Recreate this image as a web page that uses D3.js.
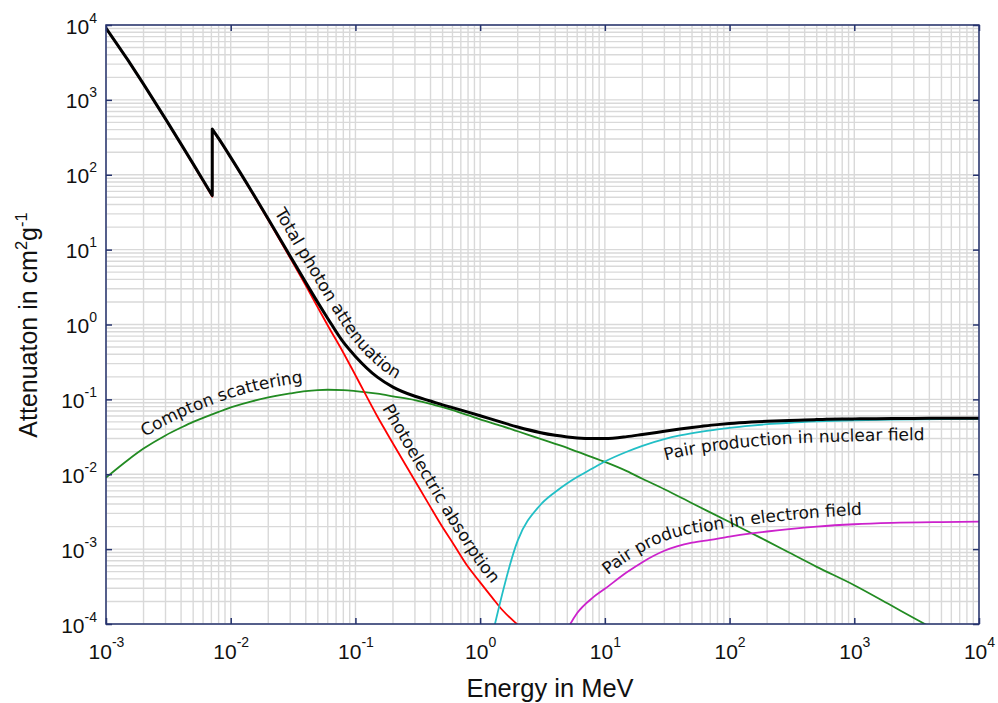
<!DOCTYPE html>
<html><head><meta charset="utf-8">
<script src="https://cdn.jsdelivr.net/npm/d3@7"></script>
<style>html,body{margin:0;padding:0;background:#fff;} svg{display:block;background:#fff}</style>
</head><body><svg id="chart" width="998" height="703"></svg>
<script>
// ---- data (iron, mass attenuation in cm^2/g vs energy in MeV) ----
const energyTotal = [1e-3,1.5e-3,2e-3,3e-3,4e-3,5e-3,6e-3,7.112e-3,7.112e-3,8e-3,1e-2,1.5e-2,2e-2,3e-2,4e-2,5e-2,6e-2,8e-2,0.1,0.15,0.2,0.3,0.4,0.5,0.6,0.8,1,1.25,1.5,2,3,4,5,6,8,10,15,20,30,40,50,60,80,100,150,200,300,400,500,600,800,1000,1500,2000,3000,4000,5000,6000,8000,10000];
const totalAttenuation = [9085,3399,1626,557.6,256.7,139.8,84.66,52.8,408,305.6,170.6,57.08,25.68,8.176,3.629,1.958,1.205,0.58,0.375,0.198,0.146,0.11,0.095,0.0845,0.0775,0.0675,0.0605,0.054,0.0492,0.0428,0.0362,0.0331,0.0315,0.0306,0.0300,0.0300,0.0318,0.0340,0.0375,0.0402,0.0422,0.0437,0.0460,0.0475,0.0497,0.0510,0.0524,0.0531,0.0537,0.0541,0.0546,0.0549,0.0553,0.0555,0.0557,0.0558,0.0559,0.0559,0.0560,0.0560];

const energyPhoto = [1e-3,1.5e-3,2e-3,3e-3,4e-3,5e-3,6e-3,7.112e-3,7.112e-3,8e-3,1e-2,1.5e-2,2e-2,3e-2,4e-2,5e-2,6e-2,8e-2,0.1,0.15,0.2,0.3,0.4,0.5,0.6,0.8,1,1.25,1.5,2,3];
const photoelectric = [9050,3380,1612,551,252.5,136.8,82.3,51,405,303,168.5,55.8,24.8,7.7,3.3,1.68,0.97,0.42,0.21,0.059,0.0258,0.0082,0.00364,0.00196,0.00123,5.8e-4,3.6e-4,2.25e-4,1.55e-4,9.8e-5,5.5e-5];

const energyCompton = [1e-3,1.5e-3,2e-3,3e-3,4e-3,5e-3,6e-3,8e-3,1e-2,1.5e-2,2e-2,3e-2,4e-2,5e-2,6e-2,8e-2,0.1,0.15,0.2,0.3,0.4,0.5,0.6,0.8,1,1.5,2,3,4,5,6,8,10,15,20,30,50,100,150,200,300,500,1000,2000,3000,5000];
const compton = [0.0090,0.0155,0.0220,0.0330,0.0420,0.0500,0.0565,0.0680,0.0780,0.0950,0.1060,0.1200,0.1290,0.1330,0.1345,0.1330,0.1290,0.1190,0.1100,0.0980,0.0870,0.0785,0.0720,0.0615,0.0540,0.0440,0.0375,0.0300,0.0255,0.0225,0.0200,0.0168,0.0146,0.0110,0.0087,0.0063,0.0041,0.0023,0.00163,0.00128,9.0e-4,5.8e-4,3.3e-4,1.75e-4,1.2e-4,7.6e-5];

const energyPairNuclear = [1.25,2,3,4,5,6,8,10,15,20,30,40,60,80,100,150,200,300,500,1000,2000,5000,10000];
const pairNuclear = [7e-5,1.3e-3,3.8e-3,5.8e-3,7.6e-3,9.2e-3,1.2e-2,1.48e-2,2.0e-2,2.4e-2,2.95e-2,3.3e-2,3.72e-2,3.98e-2,4.17e-2,4.47e-2,4.66e-2,4.87e-2,5.07e-2,5.26e-2,5.38e-2,5.46e-2,5.49e-2];

const energyPairElectron = [3,4,5,6,8,10,15,20,30,50,70,100,150,200,300,500,1000,2000,5000,10000];
const pairElectron = [1.2e-5,4e-5,8.5e-5,1.4e-4,2.25e-4,2.95e-4,4.9e-4,6.7e-4,9.5e-4,1.22e-3,1.33e-3,1.47e-3,1.62e-3,1.72e-3,1.85e-3,2.0e-3,2.15e-3,2.24e-3,2.3e-3,2.33e-3];

const xTickValues = [1e-3,1e-2,1e-1,1e0,1e1,1e2,1e3,1e4];
const xTickExps = ["-3","-2","-1","0","1","2","3","4"];
const yTickValues = [1e-4,1e-3,1e-2,1e-1,1e0,1e1,1e2,1e3,1e4];
const yTickExps = ["-4","-3","-2","-1","0","1","2","3","4"];

// labels follow their curve; off = baseline offset from the curve (px, + = glyph-up side)
const curveLabels = [
  {text:"Total photon attenuation", series:4, off:8.5, sx:276, sy:211, x0:240, x1:480},
  {text:"Compton scattering", series:0, off:9, sx:145, sy:438, x0:108, x1:380},
  {text:"Photoelectric absorption", series:1, off:8, sx:381, sy:409, x0:340, x1:530},
  {text:"Pair production in nuclear field", series:2, off:-21, sx:665, sy:460, x0:600, x1:978},
  {text:"Pair production in electron field", series:3, off:9, sx:605, sy:572, x0:575, x1:978}
];

// ---- drawing ----
const svg = d3.select("#chart");
const L = 106, R = 979, T = 25, B = 624;
const x = d3.scaleLog().domain([1e-3, 1e4]).range([L, R]);
const y = d3.scaleLog().domain([1e-4, 1e4]).range([B, T]);
const axisColor = "#26336e";
const gridColor = "#d9d9d9";

svg.append("rect").attr("width",998).attr("height",703).attr("fill","#fff");
const defs = svg.append("defs");

// grid (major + minor)
const gx = [], gy = [];
for (let e = -3; e < 4; e++) for (let k = 1; k < 10; k++) gx.push(+(k + "e" + e));
gx.push(1e4);
for (let e = -4; e < 4; e++) for (let k = 1; k < 10; k++) gy.push(+(k + "e" + e));
gy.push(1e4);
const grid = svg.append("g");
grid.selectAll("line.v").data(gx).enter().append("line")
  .attr("x1", d => x(d)).attr("x2", d => x(d)).attr("y1", T).attr("y2", B)
  .attr("stroke", gridColor).attr("stroke-width", 1.4);
grid.selectAll("line.h").data(gy).enter().append("line")
  .attr("y1", d => y(d)).attr("y2", d => y(d)).attr("x1", L).attr("x2", R)
  .attr("stroke", gridColor).attr("stroke-width", 1.4);

// clip
defs.append("clipPath").attr("id","plotclip").append("rect")
  .attr("x", L).attr("y", T).attr("width", R - L).attr("height", B - T);

const smooth = d3.line().x(d => x(d[0])).y(d => y(d[1])).curve(d3.curveMonotoneX);
const straight = d3.line().x(d => x(d[0])).y(d => y(d[1]));
function pieces(e, v) {
  const out = [[]];
  e.forEach((ev, i) => {
    if (i > 0 && ev === e[i - 1]) {
      out[out.length - 1].push([ev, v[i]]);
      out.push([[ev, v[i]]]);
    } else out[out.length - 1].push([ev, v[i]]);
  });
  return out;
}
const series = [
  {e: energyCompton, v: compton, color: "#228b22", w: 1.8},
  {e: energyPhoto, v: photoelectric, color: "#ff0000", w: 1.8},
  {e: energyPairNuclear, v: pairNuclear, color: "#22bfc6", w: 1.8},
  {e: energyPairElectron, v: pairElectron, color: "#cc22cc", w: 1.8},
  {e: energyTotal, v: totalAttenuation, color: "#000000", w: 3}
];
const plot = svg.append("g").attr("clip-path","url(#plotclip)");
series.forEach(s => {
  const ps = pieces(s.e, s.v);
  s.last = ps[ps.length - 1];
  const multi = ps.length > 1;
  const d = ps.map((p, i) => {
    const gen = (multi && i === 0) ? straight : smooth;
    const str = p.length > 1 ? gen(p) : "";
    return i === 0 ? str : str.replace(/^M/, "L");
  }).join("");
  plot.append("path").attr("d", d).attr("fill","none")
    .attr("stroke", s.color).attr("stroke-width", s.w)
    .attr("stroke-linejoin","round");
});

// frame
svg.append("rect").attr("x", L).attr("y", T).attr("width", R - L).attr("height", B - T)
  .attr("fill","none").attr("stroke", axisColor).attr("stroke-width", 1.5);

const tickFont = "'Liberation Sans', Arial, Helvetica, sans-serif";
function styleAxis(g) {
  g.select(".domain").remove();
  g.selectAll(".tick line").attr("stroke", axisColor).attr("stroke-width", 1.5);
  g.attr("font-family", tickFont).attr("font-size", 21);
}

const axB = svg.append("g").attr("transform", `translate(0,${B})`)
  .call(d3.axisBottom(x).tickValues(xTickValues).tickSizeInner(-6).tickSizeOuter(0));
styleAxis(axB);
axB.selectAll(".tick text").each(function(d, i) {
  const t = d3.select(this).text(null).attr("y", 35).attr("dy", null)
    .attr("fill", "#111").attr("text-anchor", "middle");
  t.append("tspan").text("10");
  t.append("tspan").attr("dy", -12).attr("font-size", 14).text(xTickExps[i]);
});

const axT = svg.append("g").attr("transform", `translate(0,${T})`)
  .call(d3.axisTop(x).tickValues(xTickValues).tickSizeInner(-6).tickSizeOuter(0).tickFormat(""));
styleAxis(axT);

const axLeft = svg.append("g").attr("transform", `translate(${L},0)`)
  .call(d3.axisLeft(y).tickValues(yTickValues).tickSizeInner(-6).tickSizeOuter(0));
styleAxis(axLeft);
axLeft.selectAll(".tick text").each(function(d, i) {
  const t = d3.select(this).text(null).attr("x", -9).attr("y", 8).attr("dy", null)
    .attr("fill", "#111").attr("text-anchor", "end");
  t.append("tspan").text("10");
  t.append("tspan").attr("dy", -11).attr("font-size", 14).text(yTickExps[i]);
});

const axRight = svg.append("g").attr("transform", `translate(${R},0)`)
  .call(d3.axisRight(y).tickValues(yTickValues).tickSizeInner(-6).tickSizeOuter(0).tickFormat(""));
styleAxis(axRight);

// curve labels placed on paths offset from their curves
const labelG = svg.append("g").attr("font-family", "'DejaVu Sans', Verdana, sans-serif")
  .attr("font-size", 17).attr("fill", "#111");
const basis = d3.line().curve(d3.curveBasis);
curveLabels.forEach((l, li) => {
  const s = series[l.series];
  const tmp = defs.append("path").attr("d", smooth(s.last));
  const node = tmp.node();
  const total = node.getTotalLength();
  const samples = [];
  for (let t = 0; t <= total; t += 1.5) {
    const p = node.getPointAtLength(t);
    if (p.x >= l.x0 && p.x <= l.x1 && p.y >= T - 50 && p.y <= B + 80) samples.push([p.x, p.y]);
  }
  tmp.remove();
  const n = samples.length;
  const offPts = samples.map((p, i) => {
    const a = samples[Math.max(0, i - 4)], b = samples[Math.min(n - 1, i + 4)];
    let dx = b[0] - a[0], dy = b[1] - a[1];
    const len = Math.hypot(dx, dy) || 1; dx /= len; dy /= len;
    return [p[0] + dy * l.off, p[1] - dx * l.off];
  });
  const thin = offPts.filter((p, i) => i % 4 === 0 || i === n - 1);
  const id = "lp" + li;
  const lp = defs.append("path").attr("id", id).attr("d", basis(thin));
  const ln = lp.node(), tl = ln.getTotalLength();
  let best = 0, bd = Infinity;
  for (let t = 0; t <= tl; t += 1) {
    const p = ln.getPointAtLength(t);
    const dd = Math.hypot(p.x - l.sx, p.y - l.sy);
    if (dd < bd) { bd = dd; best = t; }
  }
  labelG.append("text").append("textPath")
    .attr("href", "#" + id).attr("xlink:href", "#" + id)
    .attr("startOffset", best).text(l.text);
});

// axis titles
svg.append("text").attr("x", 550).attr("y", 697).attr("text-anchor", "middle")
  .attr("font-family", tickFont).attr("font-size", 25.5).attr("fill", "#111")
  .text("Energy in MeV");
const yt = svg.append("text").attr("transform", "translate(37,325) rotate(-90)")
  .attr("text-anchor", "middle").attr("font-family", tickFont).attr("font-size", 25).attr("fill", "#111");
yt.append("tspan").text("Attenuaton in cm");
yt.append("tspan").attr("dy", -10).attr("font-size", 16.5).text("2");
yt.append("tspan").attr("dy", 10).text("g");
yt.append("tspan").attr("dy", -10).attr("font-size", 16.5).text("-1");
</script>
</body></html>
